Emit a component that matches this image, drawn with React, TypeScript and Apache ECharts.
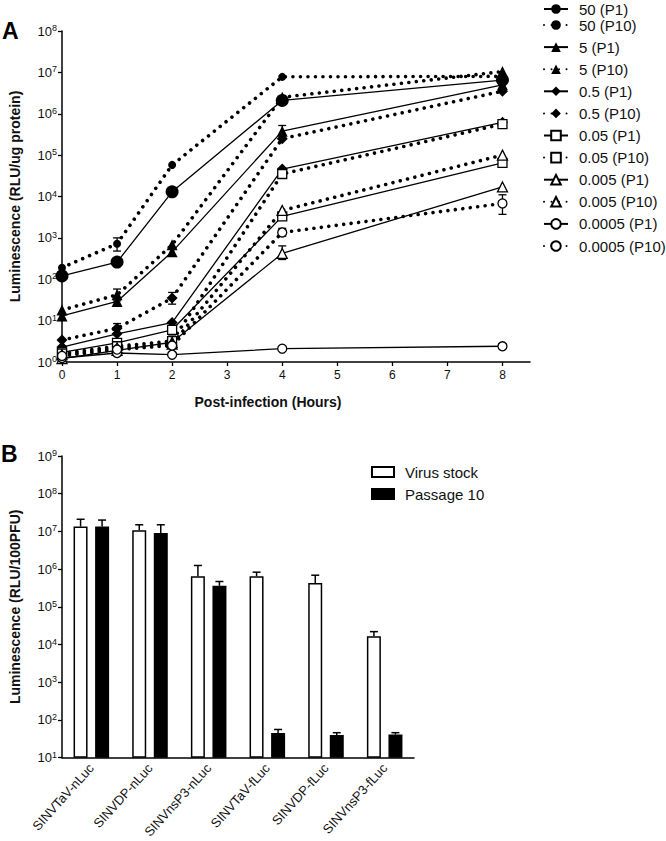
import React, { useEffect, useRef } from "react";
import * as echarts from "echarts";

// ---------- Panel A data ----------
const hours = [0, 1, 2, 4, 8];
const hourTicks = [0, 1, 2, 3, 4, 5, 6, 7, 8];
const decadesA = [1, 10, 100, 1e3, 1e4, 1e5, 1e6, 1e7, 1e8];

const moi50P1 = [120, 260, 13000, 2.1e6, 6.5e6];
const moi50P10 = [190, 720, 58000, 7.8e6, 8.0e6];
const moi5P1 = [13, 29, 460, 3.8e5, 5.0e6];
const moi5P10 = [18, 42, 680, 2.5e6, 1.05e7];
const moi05P1 = [2.3, 4.8, 9, 4.6e4, 6.2e5];
const moi05P10 = [3.4, 6.5, 35, 2.5e5, 3.5e6];
const moi005P1 = [1.7, 2.9, 6.0, 3300, 6.5e4];
const moi005P10 = [1.6, 2.4, 3.2, 3.5e4, 5.6e5];
const moi0005P1 = [1.2, 1.9, 3.0, 420, 1.7e4];
const moi0005P10 = [1.5, 2.2, 2.7, 4600, 1.0e5];
const moi00005P1 = [1.25, 1.65, 1.5, 2.1, 2.4];
const moi00005P10 = [1.4, 2.0, 2.5, 1350, 6800];

// error bars: [hour, low, high]
const errorBarsA = [
  [1, 480, 1000],
  [2, 10500, 16000],
  [1, 30, 58],
  [1, 24, 34],
  [2, 360, 580],
  [4, 3.0e5, 5.2e5],
  [2, 25, 48],
  [1, 5, 8.5],
  [2, 4.5, 8.5],
  [4, 300, 640],
  [4, 1100, 1700],
  [8, 3700, 11000],
];

// ---------- Panel B data ----------
const categoriesB = [
  "SINVTaV-nLuc",
  "SINVDP-nLuc",
  "SINVnsP3-nLuc",
  "SINVTaV-fLuc",
  "SINVDP-fLuc",
  "SINVnsP3-fLuc",
];
const decadesB = [10, 1e2, 1e3, 1e4, 1e5, 1e6, 1e7, 1e8, 1e9];
const virusStock = [1.35e7, 1.07e7, 6.5e5, 6.5e5, 4.3e5, 1.65e4];
const virusStockErr = [2.1e7, 1.5e7, 1.25e6, 8.3e5, 6.9e5, 2.2e4];
const passage10 = [1.35e7, 9.1e6, 3.6e5, 45, 40, 41];
const passage10Err = [2.0e7, 1.5e7, 4.7e5, 56, 46, 46];

const FONT = "'Liberation Sans', Arial, Helvetica, sans-serif";
const INK = "#111";

type Spec = {
  name: string;
  values: number[];
  symbol: string;
  size: number;
  filled: boolean;
  dotted: boolean;
};

const specs: Spec[] = [
  { name: "50 (P1)", values: moi50P1, symbol: "circle", size: 13, filled: true, dotted: false },
  { name: "50 (P10)", values: moi50P10, symbol: "circle", size: 8, filled: true, dotted: true },
  { name: "5 (P1)", values: moi5P1, symbol: "triangle", size: 11, filled: true, dotted: false },
  { name: "5 (P10)", values: moi5P10, symbol: "triangle", size: 11, filled: true, dotted: true },
  { name: "0.5 (P1)", values: moi05P1, symbol: "diamond", size: 11, filled: true, dotted: false },
  { name: "0.5 (P10)", values: moi05P10, symbol: "diamond", size: 11, filled: true, dotted: true },
  { name: "0.05 (P1)", values: moi005P1, symbol: "rect", size: 9, filled: false, dotted: false },
  { name: "0.05 (P10)", values: moi005P10, symbol: "rect", size: 9, filled: false, dotted: true },
  { name: "0.005 (P1)", values: moi0005P1, symbol: "triangle", size: 10, filled: false, dotted: false },
  { name: "0.005 (P10)", values: moi0005P10, symbol: "triangle", size: 10, filled: false, dotted: true },
  { name: "0.0005 (P1)", values: moi00005P1, symbol: "circle", size: 9, filled: false, dotted: false },
  { name: "0.0005 (P10)", values: moi00005P10, symbol: "circle", size: 9, filled: false, dotted: true },
];

const powLabel = (v: number) => `{b|10}{s|${Math.round(Math.log10(v))}}`;
const powRich = {
  b: { fontSize: 13, lineHeight: 15, color: INK, fontFamily: FONT },
  s: { fontSize: 9, lineHeight: 9, verticalAlign: "top", color: INK, fontFamily: FONT },
};

export default function App() {
  const ref = useRef<HTMLDivElement>(null);

  useEffect(() => {
    document.body.style.margin = "0";
    if (!ref.current) return;
    const chart = echarts.init(ref.current, undefined, { renderer: "svg" });

    const lineSeries = specs.map((s) => ({
      name: s.name,
      type: "line",
      xAxisIndex: 0,
      yAxisIndex: 0,
      data: hours.map((h, i) => [h, s.values[i]]),
      symbol: s.symbol,
      symbolSize: s.size,
      showSymbol: true,
      z: 3,
      lineStyle: s.dotted
        ? { color: "#000", width: 3.6, type: [0.01, 7.5], cap: "round" }
        : { color: "#000", width: 1.3, type: "solid" },
      itemStyle: s.filled
        ? { color: "#000", borderColor: "#000", borderWidth: 0 }
        : { color: "#fff", borderColor: "#000", borderWidth: 1.3 },
    }));

    const errA = {
      type: "custom",
      name: "errA",
      xAxisIndex: 0,
      yAxisIndex: 0,
      z: 2,
      data: errorBarsA,
      renderItem: (_p: any, api: any) => {
        const lo = api.coord([api.value(0), api.value(1)]);
        const hi = api.coord([api.value(0), api.value(2)]);
        const st = { stroke: "#000", lineWidth: 1.3 };
        return {
          type: "group",
          children: [
            { type: "line", shape: { x1: lo[0], y1: lo[1], x2: hi[0], y2: hi[1] }, style: st },
            { type: "line", shape: { x1: hi[0] - 4, y1: hi[1], x2: hi[0] + 4, y2: hi[1] }, style: st },
            { type: "line", shape: { x1: lo[0] - 4, y1: lo[1], x2: lo[0] + 4, y2: lo[1] }, style: st },
          ],
        };
      },
    };

    const barOffset = 10.75;
    const makeErrB = (name: string, vals: number[], errs: number[], off: number) => ({
      type: "custom",
      name,
      xAxisIndex: 1,
      yAxisIndex: 1,
      z: 1,
      data: vals.map((v, i) => [i, v, errs[i]]),
      renderItem: (_p: any, api: any) => {
        const top = api.coord([api.value(0), api.value(1)]);
        const hi = api.coord([api.value(0), api.value(2)]);
        const x = top[0] + off;
        const st = { stroke: "#000", lineWidth: 1.5 };
        return {
          type: "group",
          children: [
            { type: "line", shape: { x1: x, y1: top[1], x2: x, y2: hi[1] }, style: st },
            { type: "line", shape: { x1: x - 4, y1: hi[1], x2: x + 4, y2: hi[1] }, style: st },
          ],
        };
      },
    });

    const axisLineStyle = { lineStyle: { color: "#000", width: 1.5 } };
    const tickStyle = { lineStyle: { color: "#000", width: 1.3 }, length: 4 };
    const legendText = { fontSize: 15, lineHeight: 16, color: INK, fontFamily: FONT, padding: [0, 0, 0, 6] };

    chart.setOption({
      animation: false,
      backgroundColor: "#fff",
      textStyle: { fontFamily: FONT },
      grid: [
        { left: 57, top: 31, width: 473, height: 331 },
        { left: 57, top: 456, width: 357, height: 306.5 },
      ],
      xAxis: [
        {
          type: "value",
          gridIndex: 0,
          min: 0,
          max: 8.5,
          axisLine: axisLineStyle,
          axisTick: { ...tickStyle, customValues: hourTicks },
          axisLabel: { customValues: hourTicks, fontSize: 12, color: INK, margin: 7, fontFamily: FONT },
          splitLine: { show: false },
          name: "Post-infection (Hours)",
          nameLocation: "middle",
          nameGap: 33,
          nameTextStyle: { fontSize: 14, fontWeight: "bold", color: INK, fontFamily: FONT, padding: [0, 56, 0, 0] },
        },
        {
          type: "category",
          gridIndex: 1,
          data: categoriesB,
          axisLine: axisLineStyle,
          axisTick: { show: false },
          axisLabel: { rotate: 48, interval: 0, fontSize: 13, color: INK, margin: 8, fontFamily: FONT },
          splitLine: { show: false },
        },
      ],
      yAxis: [
        {
          type: "log",
          gridIndex: 0,
          logBase: 10,
          min: 1,
          max: 1e8,
          axisLine: { show: true, ...axisLineStyle },
          axisTick: { show: true, ...tickStyle, customValues: decadesA },
          axisLabel: { customValues: decadesA, formatter: powLabel, rich: powRich, margin: 5 },
          splitLine: { show: false },
          minorTick: { show: false },
          name: "Luminescence (RLU/ug protein)",
          nameLocation: "middle",
          nameGap: 40,
          nameTextStyle: { fontSize: 14, fontWeight: "bold", color: INK, fontFamily: FONT },
        },
        {
          type: "log",
          gridIndex: 1,
          logBase: 10,
          min: 10,
          max: 1e9,
          startValue: 10,
          axisLine: { show: true, ...axisLineStyle },
          axisTick: { show: true, ...tickStyle, customValues: decadesB },
          axisLabel: { customValues: decadesB, formatter: powLabel, rich: powRich, margin: 5 },
          splitLine: { show: false },
          minorTick: { show: false },
          name: "Luminescence (RLU/100PFU)",
          nameLocation: "middle",
          nameGap: 40,
          nameTextStyle: { fontSize: 14, fontWeight: "bold", color: INK, fontFamily: FONT },
        },
      ],
      legend: [
        {
          data: [specs[0].name],
          orient: "vertical",
          left: 538,
          top: -4,
          itemWidth: 24,
          itemHeight: 12,
          itemGap: 6,
          textStyle: legendText,
        },
        {
          data: specs.slice(1).map((s) => s.name),
          orient: "vertical",
          left: 538,
          top: 12,
          itemWidth: 24,
          itemHeight: 12,
          itemGap: 6.1,
          textStyle: legendText,
        },
        {
          data: ["Virus stock", "Passage 10"],
          orient: "vertical",
          left: 366,
          top: 459,
          icon: "rect",
          itemWidth: 22,
          itemHeight: 10,
          itemGap: 6,
          textStyle: legendText,
        },
      ],
      graphic: [
        { type: "text", left: 2, top: 19, style: { text: "A", fontSize: 23, fontWeight: "bold", fill: "#000", fontFamily: FONT } },
        { type: "text", left: 1, top: 442, style: { text: "B", fontSize: 23, fontWeight: "bold", fill: "#000", fontFamily: FONT } },
      ],
      series: [
        errA,
        ...lineSeries,
        {
          name: "Virus stock",
          type: "bar",
          xAxisIndex: 1,
          yAxisIndex: 1,
          data: virusStock,
          barWidth: 14,
          barGap: "54%",
          z: 2,
          itemStyle: { color: "#fff", borderColor: "#000", borderWidth: 1.5 },
        },
        {
          name: "Passage 10",
          type: "bar",
          xAxisIndex: 1,
          yAxisIndex: 1,
          data: passage10,
          barWidth: 14,
          barGap: "54%",
          z: 2,
          itemStyle: { color: "#000", borderColor: "#000", borderWidth: 1.5 },
        },
        makeErrB("errStock", virusStock, virusStockErr, -barOffset),
        makeErrB("errP10", passage10, passage10Err, barOffset),
      ],
    } as any);

    return () => chart.dispose();
  }, []);

  return (
    <div
      ref={ref}
      style={{ position: "absolute", left: 0, top: 0, width: 666, height: 841, background: "#fff" }}
    />
  );
}
